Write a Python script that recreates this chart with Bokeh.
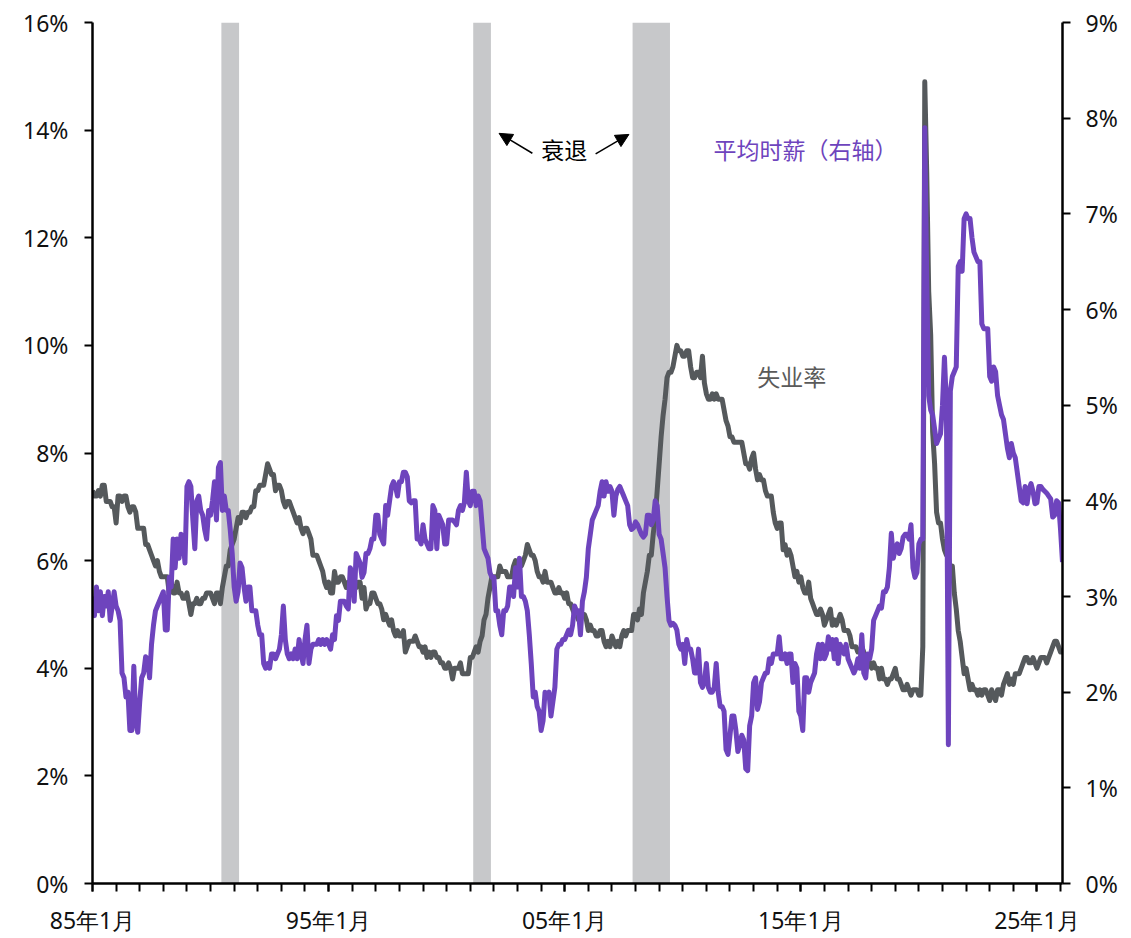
from bokeh.plotting import figure
from bokeh.models import (Range1d, LinearAxis, FixedTicker, PrintfTickFormatter,
                          Label, Arrow, NormalHead, ColumnDataSource)
from bokeh.embed import file_html
from bokeh.resources import INLINE

# ---------------- data ----------------
start_year = 1985  # first month: 1985-01, monthly series

unemployment = [
    7.3, 7.2, 7.2, 7.3, 7.2, 7.4, 7.4, 7.1, 7.1, 7.1, 7.0, 7.0,   # 1985
    6.7, 7.2, 7.2, 7.1, 7.2, 7.2, 7.0, 6.9, 7.0, 7.0, 6.9, 6.6,   # 1986
    6.6, 6.6, 6.6, 6.3, 6.3, 6.2, 6.1, 6.0, 5.9, 6.0, 5.8, 5.7,   # 1987
    5.7, 5.7, 5.7, 5.4, 5.6, 5.4, 5.4, 5.6, 5.4, 5.4, 5.3, 5.3,   # 1988
    5.4, 5.2, 5.0, 5.2, 5.2, 5.3, 5.2, 5.2, 5.3, 5.3, 5.4, 5.4,   # 1989
    5.4, 5.3, 5.2, 5.4, 5.4, 5.2, 5.5, 5.7, 5.9, 5.9, 6.2, 6.3,   # 1990
    6.4, 6.6, 6.8, 6.7, 6.9, 6.9, 6.8, 6.9, 6.9, 7.0, 7.0, 7.3,   # 1991
    7.3, 7.4, 7.4, 7.4, 7.6, 7.8, 7.7, 7.6, 7.6, 7.3, 7.4, 7.4,   # 1992
    7.3, 7.1, 7.0, 7.1, 7.1, 7.0, 6.9, 6.8, 6.7, 6.8, 6.6, 6.5,   # 1993
    6.6, 6.6, 6.5, 6.4, 6.1, 6.1, 6.1, 6.0, 5.9, 5.8, 5.6, 5.5,   # 1994
    5.6, 5.4, 5.4, 5.8, 5.6, 5.6, 5.7, 5.7, 5.6, 5.5, 5.6, 5.6,   # 1995
    5.6, 5.5, 5.5, 5.6, 5.6, 5.3, 5.5, 5.1, 5.2, 5.2, 5.4, 5.4,   # 1996
    5.3, 5.2, 5.2, 5.1, 4.9, 5.0, 4.9, 4.8, 4.9, 4.7, 4.6, 4.7,   # 1997
    4.6, 4.6, 4.7, 4.3, 4.4, 4.5, 4.5, 4.5, 4.6, 4.5, 4.4, 4.4,   # 1998
    4.3, 4.4, 4.2, 4.3, 4.2, 4.3, 4.3, 4.2, 4.2, 4.1, 4.1, 4.0,   # 1999
    4.0, 4.1, 4.0, 3.8, 4.0, 4.0, 4.0, 4.1, 3.9, 3.9, 3.9, 3.9,   # 2000
    4.2, 4.2, 4.3, 4.4, 4.3, 4.5, 4.6, 4.9, 5.0, 5.3, 5.5, 5.7,   # 2001
    5.7, 5.7, 5.7, 5.9, 5.8, 5.8, 5.8, 5.7, 5.7, 5.7, 5.9, 6.0,   # 2002
    5.8, 5.9, 5.9, 6.0, 6.1, 6.3, 6.2, 6.1, 6.1, 6.0, 5.8, 5.7,   # 2003
    5.7, 5.6, 5.8, 5.6, 5.6, 5.6, 5.5, 5.4, 5.4, 5.5, 5.4, 5.4,   # 2004
    5.3, 5.4, 5.2, 5.2, 5.1, 5.0, 5.0, 4.9, 5.0, 5.0, 5.0, 4.9,   # 2005
    4.7, 4.8, 4.7, 4.7, 4.6, 4.6, 4.7, 4.7, 4.5, 4.4, 4.5, 4.4,   # 2006
    4.6, 4.5, 4.4, 4.5, 4.4, 4.6, 4.7, 4.6, 4.7, 4.7, 4.7, 5.0,   # 2007
    5.0, 4.9, 5.1, 5.0, 5.4, 5.6, 5.8, 6.1, 6.1, 6.5, 6.8, 7.3,   # 2008
    7.8, 8.3, 8.7, 9.0, 9.4, 9.5, 9.5, 9.6, 9.8, 10.0, 9.9, 9.9,  # 2009
    9.8, 9.8, 9.9, 9.9, 9.6, 9.4, 9.4, 9.5, 9.5, 9.4, 9.8, 9.3,   # 2010
    9.1, 9.0, 9.0, 9.1, 9.0, 9.1, 9.0, 9.0, 9.0, 8.8, 8.6, 8.5,   # 2011
    8.3, 8.3, 8.2, 8.2, 8.2, 8.2, 8.2, 8.0, 7.8, 7.8, 7.7, 7.9,   # 2012
    8.0, 7.7, 7.5, 7.6, 7.5, 7.5, 7.3, 7.2, 7.2, 7.2, 6.9, 6.7,   # 2013
    6.6, 6.7, 6.7, 6.2, 6.3, 6.1, 6.2, 6.1, 5.9, 5.7, 5.8, 5.6,   # 2014
    5.7, 5.5, 5.4, 5.4, 5.6, 5.3, 5.2, 5.1, 5.0, 5.0, 5.1, 5.0,   # 2015
    4.8, 4.9, 5.0, 5.1, 4.8, 4.9, 4.8, 4.9, 5.0, 4.9, 4.7, 4.7,   # 2016
    4.7, 4.6, 4.4, 4.4, 4.4, 4.3, 4.3, 4.4, 4.3, 4.2, 4.2, 4.1,   # 2017
    4.0, 4.1, 4.0, 4.0, 3.8, 4.0, 3.8, 3.8, 3.7, 3.8, 3.8, 3.9,   # 2018
    4.0, 3.8, 3.8, 3.7, 3.6, 3.6, 3.7, 3.6, 3.5, 3.6, 3.6, 3.6,   # 2019
    3.5, 3.5, 4.4, 14.9, 13.2, 11.0, 10.2, 8.4, 7.8, 6.9, 6.7, 6.7,  # 2020
    6.4, 6.2, 6.1, 6.1, 5.8, 5.9, 5.4, 5.1, 4.7, 4.5, 4.2, 3.9,   # 2021
    4.0, 3.8, 3.6, 3.7, 3.6, 3.6, 3.5, 3.6, 3.5, 3.6, 3.6, 3.5,   # 2022
    3.4, 3.6, 3.5, 3.4, 3.6, 3.6, 3.5, 3.7, 3.8, 3.9, 3.7, 3.8,   # 2023
    3.7, 3.9, 3.9, 3.9, 4.0, 4.1, 4.2, 4.2, 4.1, 4.1, 4.2, 4.1,   # 2024
    4.0, 4.1, 4.2, 4.2, 4.2, 4.1, 4.2, 4.3, 4.4, 4.5, 4.5, 4.4,   # 2025
    4.3, 4.3,                                                     # 2026
]

wage_growth = [
    3.0, 2.8, 3.1, 2.85, 3.05, 2.8, 3.0, 2.9, 3.05, 2.75, 2.9, 3.05,   # 1985
    2.9, 2.85, 2.75, 2.2, 2.15, 1.95, 2.0, 1.6, 1.6, 2.27, 1.7, 1.58,  # 1986
    1.9, 2.15, 2.2, 2.37, 2.35, 2.15, 2.5, 2.7, 2.85, 2.9, 2.95, 3.0,  # 1987
    3.05, 2.65, 2.65, 3.2, 3.1, 3.6, 3.3, 3.6, 3.4, 3.65, 3.6, 3.35,   # 1988
    4.15, 4.2, 4.15, 3.8, 3.5, 4.0, 4.05, 3.9, 3.85, 3.7, 3.6, 3.9,    # 1989
    3.85, 4.0, 4.2, 3.8, 4.35, 4.4, 3.9, 4.05, 3.9, 3.9, 3.7, 3.45,    # 1990
    3.1, 2.95, 3.05, 3.35, 3.3, 3.1, 2.95, 3.1, 3.1, 2.85, 2.85, 2.85, # 1991
    2.7, 2.6, 2.6, 2.3, 2.25, 2.3, 2.25, 2.4, 2.4, 2.35, 2.4, 2.45,    # 1992
    2.6, 2.9, 2.55, 2.4, 2.35, 2.4, 2.35, 2.45, 2.35, 2.55, 2.4, 2.3,  # 1993
    2.55, 2.7, 2.3, 2.45, 2.5, 2.5, 2.5, 2.55, 2.5, 2.55, 2.5, 2.55,   # 1994
    2.5, 2.45, 2.6, 2.55, 2.8, 2.75, 2.95, 2.95, 2.95, 2.9, 2.87, 3.3, # 1995
    3.25, 2.95, 3.45, 3.4, 3.35, 3.2, 3.25, 3.45, 3.45, 3.5, 3.6, 3.6, # 1996
    3.85, 3.85, 3.65, 3.6, 3.55, 3.95, 3.85, 4.0, 4.15, 4.2, 4.15, 4.05,  # 1997
    4.2, 4.2, 4.3, 4.3, 4.25, 4.0, 3.98, 4.0, 4.0, 3.6, 3.6, 3.55,     # 1998
    3.75, 3.6, 3.55, 3.5, 3.5, 3.95, 3.9, 3.5, 3.85, 3.8, 3.75, 3.55,  # 1999
    3.55, 3.8, 3.8, 3.8, 3.78, 3.75, 3.9, 3.95, 3.9, 3.98, 4.3, 4.0,   # 2000
    3.95, 4.1, 4.1, 3.95, 4.05, 4.0, 3.75, 3.5, 3.45, 3.4, 3.25, 3.2,  # 2001
    3.2, 2.85, 2.85, 2.7, 2.6, 2.85, 2.85, 2.9, 3.1, 3.1, 3.0, 3.3,    # 2002
    3.1, 3.4, 3.0, 3.0, 2.95, 2.85, 2.6, 2.3, 1.95, 2.0, 1.85, 1.8,    # 2003
    1.6, 1.7, 2.0, 1.95, 2.0, 1.75, 1.9, 2.05, 2.45, 2.5, 2.5, 2.55,   # 2004
    2.55, 2.6, 2.65, 2.6, 2.7, 2.9, 2.85, 2.85, 2.6, 2.95, 3.05, 3.2,  # 2005
    3.5, 3.65, 3.8, 3.85, 3.9, 3.95, 4.1, 4.2, 4.05, 4.2, 4.1, 4.15,   # 2006
    4.1, 3.85, 4.05, 4.12, 4.15, 4.1, 4.05, 4.0, 3.95, 3.75, 3.7, 3.72,   # 2007
    3.78, 3.75, 3.7, 3.65, 3.62, 3.65, 3.85, 3.85, 3.75, 3.8, 4.0, 3.95,  # 2008
    3.65, 3.6, 3.45, 3.3, 3.0, 2.75, 2.7, 2.72, 2.7, 2.65, 2.5, 2.45,  # 2009
    2.5, 2.3, 2.55, 2.45, 2.45, 2.35, 2.2, 2.2, 2.45, 2.1, 2.05, 2.1,  # 2010
    2.3, 2.05, 2.0, 2.0, 2.05, 2.3, 2.0, 1.85, 1.85, 1.8, 1.4, 1.35,   # 2011
    1.55, 1.75, 1.75, 1.6, 1.38, 1.45, 1.55, 1.5, 1.2, 1.18, 1.65, 1.75,  # 2012
    2.1, 2.15, 1.82, 1.9, 2.1, 2.15, 2.2, 2.2, 2.35, 2.3, 2.4, 2.4,    # 2013
    2.4, 2.58, 2.35, 2.35, 2.4, 2.3, 2.4, 2.4, 2.1, 2.3, 2.25, 1.8,    # 2014
    1.75, 1.6, 2.15, 2.15, 2.0, 2.1, 2.15, 2.2, 2.4, 2.5, 2.35, 2.5,   # 2015
    2.35, 2.4, 2.58, 2.45, 2.55, 2.35, 2.55, 2.3, 2.5, 2.45, 2.4, 2.5, # 2016
    2.35, 2.3, 2.25, 2.2, 2.25, 2.35, 2.25, 2.6, 2.2, 2.15, 2.4, 2.35, # 2017
    2.45, 2.75, 2.8, 2.85, 2.9, 2.88, 3.05, 3.05, 3.1, 3.3, 3.66, 3.4, # 2018
    3.5, 3.55, 3.45, 3.5, 3.62, 3.65, 3.65, 3.6, 3.75, 3.3, 3.2, 3.25, # 2019
    3.55, 3.6, 3.6, 7.9, 6.3, 5.1, 4.95, 4.9, 4.75, 4.6, 4.65, 4.7,    # 2020
    5.0, 5.5, 5.0, 1.45, 5.15, 5.3, 5.35, 5.4, 6.45, 6.5, 6.4, 6.95,   # 2021
    7.0, 6.95, 6.95, 6.75, 6.6, 6.55, 6.5, 6.5, 5.85, 5.8, 5.8, 5.8,   # 2022
    5.3, 5.25, 5.4, 5.35, 5.1, 5.0, 4.9, 4.85, 4.7, 4.55, 4.45, 4.6,   # 2023
    4.5, 4.45, 4.3, 4.15, 4.0, 3.98, 4.15, 3.97, 4.12, 4.18, 4.1, 3.97,   # 2024
    3.98, 4.15, 4.15, 4.12, 4.1, 4.08, 4.05, 4.02, 3.83, 3.85, 4.0, 3.98, # 2025
    3.7, 3.36,                                                         # 2026
]

recession_start = ["1990-07", "2001-03", "2007-12"]
recession_end = ["1991-03", "2001-11", "2009-06"]

x_label_years = [1985, 1995, 2005, 2015, 2025]
x_label_texts = ["85年1月", "95年1月", "05年1月", "15年1月", "25年1月"]
left_ticks = [0, 2, 4, 6, 8, 10, 12, 14, 16]
right_ticks = [0, 1, 2, 3, 4, 5, 6, 7, 8, 9]

# ---------------- helpers ----------------
def ym(s):
    y, m = s.split("-")
    return int(y) + (int(m) - 1) / 12.0

xs = [start_year + i / 12.0 for i in range(len(unemployment))]
xw = [start_year + i / 12.0 for i in range(len(wage_growth))]

GRAY = "#55595C"
PURPLE = "#6E44BD"
REC = "#C7C8CA"
TICK_FONT = "Noto Sans"
CJK_FONT = "Noto Sans CJK SC"

p = figure(width=1123, height=938,
           x_range=Range1d(xs[0], xs[-1]), y_range=Range1d(0, 16),
           output_backend="svg", toolbar_location=None,
           min_border_left=92, min_border_right=61,
           min_border_top=22, min_border_bottom=54)
p.outline_line_color = None
p.xgrid.visible = False
p.ygrid.visible = False
p.extra_y_ranges = {"right": Range1d(0, 9)}

# recession bands
rec_src = ColumnDataSource(dict(
    left=[ym(s) - 0.5 / 12 for s in recession_start],
    right=[ym(e) + 0.5 / 12 for e in recession_end],
    bottom=[0] * len(recession_start),
    top=[16] * len(recession_start),
))
p.quad(left="left", right="right", bottom="bottom", top="top", source=rec_src,
       fill_color=REC, line_color=None)

# lines
p.line(xs, unemployment, line_color=GRAY, line_width=5, line_join="round")
p.line(xw, wage_growth, line_color=PURPLE, line_width=5, line_join="round",
       y_range_name="right")

# axes
def style_axis(ax):
    ax.axis_line_color = "black"
    ax.axis_line_width = 2.5
    ax.major_tick_line_color = "black"
    ax.major_tick_line_width = 2
    ax.major_tick_in = 0
    ax.major_tick_out = 8
    ax.major_label_text_font = TICK_FONT
    ax.major_label_text_font_size = "23px"
    ax.major_label_text_color = "#111111"

xa = p.xaxis[0]
style_axis(xa)
xa.ticker = FixedTicker(ticks=x_label_years,
                        minor_ticks=list(range(start_year, int(xs[-1]) + 1)))
xa.major_label_overrides = dict(zip(x_label_years, x_label_texts))
xa.minor_tick_line_color = "black"
xa.minor_tick_line_width = 2
xa.minor_tick_in = 0
xa.minor_tick_out = 8
xa.major_label_standoff = 12

ya = p.yaxis[0]
style_axis(ya)
ya.ticker = FixedTicker(ticks=left_ticks)
ya.formatter = PrintfTickFormatter(format="%d%%")
ya.minor_tick_line_color = None
ya.major_label_standoff = 16

yr = LinearAxis(y_range_name="right", ticker=FixedTicker(ticks=right_ticks),
                formatter=PrintfTickFormatter(format="%d%%"))
style_axis(yr)
yr.minor_tick_line_color = None
yr.major_label_standoff = 15
p.add_layout(yr, "right")

# annotations
p.add_layout(Label(x=2004.98, y=13.65, text="衰退", text_font=CJK_FONT,
                   text_font_size="23px", text_color="black",
                   text_align="center", text_baseline="middle"))
p.add_layout(Label(x=2011.3, y=13.64, text="平均时薪（右轴）", text_font=CJK_FONT,
                   text_font_size="23px", text_color=PURPLE,
                   text_align="left", text_baseline="middle"))
p.add_layout(Label(x=2013.15, y=9.44, text="失业率", text_font=CJK_FONT,
                   text_font_size="23px", text_color="#5A5A5A",
                   text_align="left", text_baseline="middle"))
for (x0, y0, x1, y1) in [(2003.63, 13.57, 2002.22, 13.94),
                         (2006.31, 13.56, 2007.72, 13.92)]:
    p.add_layout(Arrow(end=NormalHead(size=13, fill_color="black",
                                      line_color="black"),
                       x_start=x0, y_start=y0, x_end=x1, y_end=y1,
                       line_color="black", line_width=1.5))

open("out.html", "w").write(file_html(p, INLINE))
